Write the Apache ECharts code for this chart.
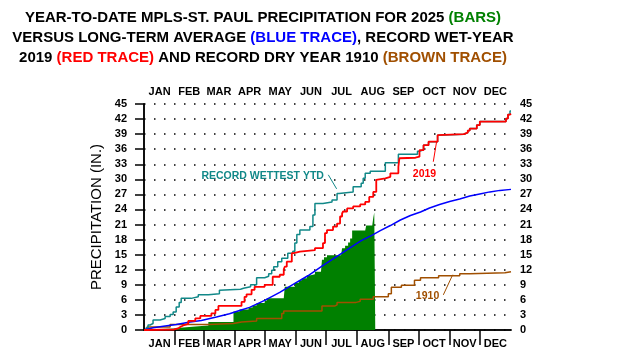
<!DOCTYPE html>
<html><head><meta charset="utf-8">
<script src="https://cdn.jsdelivr.net/npm/echarts@6/dist/echarts.min.js"></script>
<style>html,body{margin:0;padding:0;background:#fff}#c{width:624px;height:362px}</style>
</head><body><div id="c"></div>
<script>
// ---- data (day-of-year, inches) ----
const months = ['JAN','FEB','MAR','APR','MAY','JUN','JUL','AUG','SEP','OCT','NOV','DEC'];
const monthStart = [0,31,59,90,120,151,181,212,243,273,304,334,365];

const y2025 = [[0,0],[2,0.15],[9,0.3],[29,0.5],[39,0.7],[51,0.9],[64,1.6],[89,3.7],[95,4.1],[104,4.5],[108,4.9],[112,5.4],[120,5.8],[122,6.3],[139,6.6],[140,8.6],[150,9.4],[154,9.9],[157,10.3],[162,10.9],[166,11.1],[170,11.6],[176,11.7],[177,14.0],[179,14.5],[182,14.9],[196,15.1],[197,16.3],[200,16.8],[203,17.4],[205,18.2],[207,19.8],[220,20.0],[221,20.8],[227,21.0],[228,22.3],[229,23.4],[230,23.4]];

const recordWettest = [[0,0],[2,0.4],[4,1.0],[6,1.3],[9,2.0],[16,2.3],[21,2.7],[26,3.1],[29,3.6],[32,4.6],[35,5.5],[37,6.3],[47,6.6],[54,7.0],[64,7.2],[75,7.9],[76,8.1],[96,8.3],[99,8.6],[106,9.0],[112,10.4],[120,10.7],[124,11.2],[127,11.9],[129,12.6],[133,13.6],[137,14.3],[143,15.3],[148,15.7],[150,17.3],[152,19.0],[155,19.9],[165,20.6],[168,22.9],[170,25.2],[178,25.5],[187,25.9],[192,27.2],[194,27.5],[208,28.5],[216,29.2],[218,30.2],[220,31.2],[225,31.6],[240,33.3],[253,35.0],[272,35.6],[274,35.9],[278,36.8],[283,37.5],[292,38.8],[293,39.0],[318,39.3],[322,39.7],[324,40.1],[331,40.8],[334,41.5],[360,42.1],[362,42.9],[364,43.6],[365,43.6]];

const y2019 = [[0,0],[3,0.1],[30,0.3],[34,0.6],[36,0.9],[39,1.2],[44,1.8],[51,2.3],[56,2.8],[67,3.3],[71,4.0],[74,4.8],[97,5.6],[100,6.6],[102,7.1],[107,8.0],[110,8.6],[120,9.0],[128,10.6],[135,11.0],[139,12.1],[140,12.6],[142,13.6],[147,15.3],[149,15.6],[155,15.9],[170,16.3],[178,17.3],[180,19.3],[182,19.9],[188,20.6],[192,21.2],[195,22.6],[197,23.2],[198,23.6],[202,24.2],[208,24.6],[215,25.0],[220,25.5],[224,26.5],[228,27.5],[231,29.9],[232,30.2],[240,30.5],[245,31.2],[253,32.5],[254,34.2],[255,34.3],[270,34.5],[274,35.8],[278,36.8],[283,37.5],[292,38.8],[293,39.0],[318,39.3],[322,39.7],[324,40.1],[331,40.8],[334,41.5],[360,42.1],[362,42.9],[364,43.1],[365,43.2]];

const y1910 = [[0,0],[3,0.6],[26,1.1],[64,1.3],[89,1.6],[97,1.8],[112,2.3],[137,3.3],[139,3.8],[177,4.8],[190,5.0],[192,5.5],[211,5.7],[215,6.1],[228,6.6],[243,7.2],[246,8.5],[256,8.9],[269,9.9],[275,10.4],[293,10.8],[314,11.2],[324,11.4],[359,11.6],[365,11.7]];

const average = [[0,0],[9,0.45],[21,0.8],[32,1.1],[46,1.6],[57,1.9],[72,2.6],[85,3.25],[95,3.9],[105,4.5],[120,5.9],[135,7.5],[150,9.3],[163,10.8],[177,12.7],[190,14.4],[203,16.1],[216,17.8],[227,18.9],[235,19.8],[245,20.8],[255,21.9],[265,22.8],[275,23.5],[284,24.3],[294,25.0],[304,25.6],[314,26.1],[324,26.7],[334,27.1],[344,27.5],[354,27.8],[365,28.0]];

// annotation anchors in data space
const noteWet = {text:'RECORD WETTEST YTD', at:[118,30.7], line:[[183.3,30.9],[191.6,28.1]]};
const note2019 = {text:'2019', at:[279,31.1], line:[[287.7,33.5],[291,37.5]]};
const note1910 = {text:'1910', at:[282,6.8], line:[[297.7,7.0],[307,11.0]]};

// ---- styles ----
const C_GREEN='#008000', C_BLUE='#0000ff', C_RED='#ff0000', C_BROWN='#a04f00', C_TEAL='#118888';
const FONT='"Liberation Sans", Arial, sans-serif';
const monthMid = months.map((m,i)=> (monthStart[i]+monthStart[i+1])/2);
const innerTicks = monthStart.slice(1,12);

function xAx(pos){
  const top = pos==='top';
  return {
    type:'value', position:pos, min:0, max:365,
    axisLine:{show:true, lineStyle:{color:'#000', width:1.5}},
    axisTick:{show:true, customValues:innerTicks, inside:top, length: top?15:8, lineStyle:{color:'#000', width:1.5}},
    axisLabel:{show:true, customValues:monthMid, margin: top?7:8,
      formatter:v=>{const i=monthMid.findIndex(m=>Math.abs(m-v)<0.01);return i>=0?months[i]:'';},
      color:'#000', fontFamily:FONT, fontWeight:'bold', fontSize:11},
    splitLine:{show:false}
  };
}
function yAx(pos){
  const right = pos==='right';
  return {
    type:'value', position:pos, min:0, max:45, interval:3,
    axisLine:{show:true, lineStyle:{color:'#000', width:1.5}},
    axisTick:{show:right, inside:true, length:9, lineStyle:{color:'#000', width:1.5}},
    axisLabel:{show:true, margin: right?9:17, color:'#000', fontFamily:FONT, fontWeight:'bold', fontSize:11},
    splitLine:{show:!right, lineStyle:{color:'#000', width:1.5, type:[1.5,8.5]}},
    name: right?'':'PRECIPITATION (IN.)', nameLocation:'middle', nameGap:37, nameRotate:90,
    nameTextStyle:{fontFamily:FONT, fontSize:15, color:'#000'}
  };
}
function note(n,color){
  return {
    markLine:{silent:true, symbol:['none','none'], animation:false,
      lineStyle:{color:color, width:1, type:'solid'}, label:{show:false},
      data:[[{coord:n.line[0]},{coord:n.line[1]}]]},
    markPoint:{silent:true, symbol:'circle', symbolSize:1, itemStyle:{color:'rgba(0,0,0,0)'}, animation:false,
      label:{show:true, position:'inside', formatter:n.text, color:color, fontFamily:FONT, fontWeight:'bold', fontSize:10.5},
      data:[{coord:n.at}]}
  };
}
function stepLine(name,data,color,width,extra){
  return Object.assign({name, type:'line', step:'end', data, showSymbol:false, symbol:'none',
    lineStyle:{color, width}, itemStyle:{color}, animation:false}, extra||{});
}

const chart = echarts.init(document.getElementById('c'), null, {renderer:'canvas'});
chart.setOption({
  animation:false,
  backgroundColor:'#fff',
  title:{
    left:263, top:8, textAlign:'center', padding:0,
    text:'{k|YEAR-TO-DATE MPLS-ST. PAUL PRECIPITATION FOR 2025 }{g|(BARS)}\n{k|VERSUS LONG-TERM AVERAGE }{b|(BLUE TRACE)}{k|, RECORD WET-YEAR}\n{k|2019 }{r|(RED TRACE)}{k| AND RECORD DRY YEAR 1910 }{o|(BROWN TRACE)}',
    textStyle:{fontFamily:FONT, fontWeight:'bold', fontSize:15, lineHeight:20, align:'center',
      rich:{
        k:{color:'#000', fontFamily:FONT, fontWeight:'bold', fontSize:15, lineHeight:20},
        g:{color:C_GREEN, fontFamily:FONT, fontWeight:'bold', fontSize:15, lineHeight:20},
        b:{color:C_BLUE, fontFamily:FONT, fontWeight:'bold', fontSize:15, lineHeight:20},
        r:{color:C_RED, fontFamily:FONT, fontWeight:'bold', fontSize:15, lineHeight:20},
        o:{color:C_BROWN, fontFamily:FONT, fontWeight:'bold', fontSize:15, lineHeight:20}
      }}
  },
  grid:{left:144, right:113, top:104, bottom:32, containLabel:false},
  xAxis:[xAx('bottom'), xAx('top')],
  yAxis:[yAx('left'), yAx('right')],
  series:[
    stepLine('2025', y2025, C_GREEN, 0, {areaStyle:{color:C_GREEN, opacity:1}, lineStyle:{width:0, color:C_GREEN}}),
    stepLine('1910', y1910, C_BROWN, 1.5, note(note1910, C_BROWN)),
    stepLine('Record wettest YTD', recordWettest, C_TEAL, 1.5, note(noteWet, C_TEAL)),
    {name:'Average', type:'line', data:average, showSymbol:false, symbol:'none', smooth:false,
      lineStyle:{color:C_BLUE, width:1.5}, itemStyle:{color:C_BLUE}, animation:false},
    stepLine('2019', y2019, C_RED, 1.8, note(note2019, C_RED))
  ]
});
</script></body></html>
